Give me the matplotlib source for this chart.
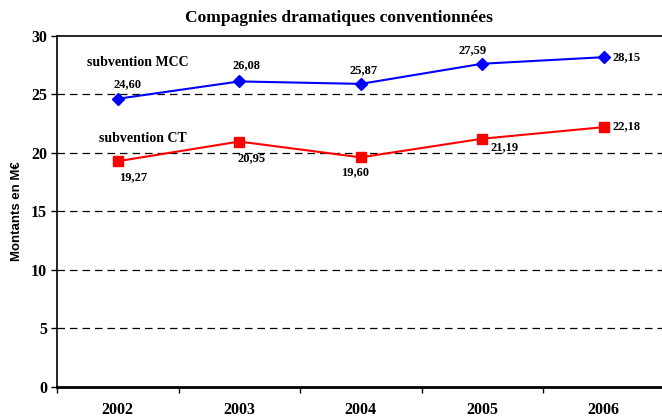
import matplotlib
matplotlib.use("Agg")
import matplotlib.pyplot as plt

years = ["2002", "2003", "2004", "2005", "2006"]
mcc = [24.60, 26.08, 25.87, 27.59, 28.15]
ct = [19.27, 20.95, 19.60, 21.19, 22.18]
mcc_labels = ["24,60", "26,08", "25,87", "27,59", "28,15"]
ct_labels = ["19,27", "20,95", "19,60", "21,19", "22,18"]
yticks = [0, 5, 10, 15, 20, 25, 30]

serif = "Liberation Serif"

W, H = 662, 418
fig = plt.figure(figsize=(W / 100, H / 100), dpi=100)
ax = fig.add_axes([57 / W, (H - 387) / H, (664.5 - 57) / W, (387 - 35.5) / H])

x = list(range(len(years)))
ax.plot(x, mcc, color="#0000FF", lw=1.5, marker="D", ms=6.5, mfc="#0000FF", mec="#0000FF", zorder=3)
ax.plot(x, ct, color="#FF0000", lw=1.5, marker="s", ms=7, mfc="#FF0000", mec="#FF0000", zorder=3)

ax.set_xlim(-0.5, 4.5)
ax.set_ylim(0, 30)
ax.set_yticks(yticks)
ax.set_yticklabels([str(v) for v in yticks], fontfamily=serif, fontweight="bold", fontsize=11.5)
ax.set_xticks([i - 0.5 for i in range(len(years) + 1)])
ax.set_xticklabels([])
ax.set_xticks(x, minor=True)
ax.set_xticklabels(years, minor=True, fontfamily=serif, fontweight="bold", fontsize=11.5)
ax.tick_params(axis="x", which="major", direction="out", length=4, width=1, color="black")
ax.tick_params(axis="x", which="minor", length=0, pad=10.5)
ax.tick_params(axis="y", direction="out", length=4, width=1, pad=3)

for v in yticks[1:-1]:
    ax.axhline(v, color="black", lw=0.9, linestyle=(0, (6, 4)), zorder=1)

for s in ["left", "top", "right"]:
    ax.spines[s].set_linewidth(1.2)
ax.spines["bottom"].set_linewidth(2)

ax.set_ylabel("Montants en M€", fontfamily="Liberation Sans", fontweight="bold", fontsize=9.5, labelpad=6)
fig.text(339 / W, 1 - 18 / H, "Compagnies dramatiques conventionnées", ha="center", va="center",
         fontfamily=serif, fontweight="bold", fontsize=12.5)

tkw = dict(textcoords="offset pixels", fontfamily=serif, fontweight="bold", fontsize=9, va="center")
mcc_off = [(10, 15, "center"), (7, 16, "center"), (3, 14, "center"), (-10, 14, "center"), (9, 0, "left")]
ct_off = [(15, -16, "center"), (12, -17, "center"), (-6, -15, "center"), (22, -8, "center"), (9, 1, "left")]
for i in x:
    dx, dy, ha = mcc_off[i]
    ax.annotate(mcc_labels[i], (i, mcc[i]), xytext=(dx, dy), ha=ha, **tkw)
    dx, dy, ha = ct_off[i]
    ax.annotate(ct_labels[i], (i, ct[i]), xytext=(dx, dy), ha=ha, **tkw)

ax.text(0.165, 27.7, "subvention MCC", ha="center", va="center", fontfamily=serif, fontweight="bold", fontsize=10)
ax.text(0.205, 21.2, "subvention CT", ha="center", va="center", fontfamily=serif, fontweight="bold", fontsize=10)

fig.savefig("out.png", dpi=100)
